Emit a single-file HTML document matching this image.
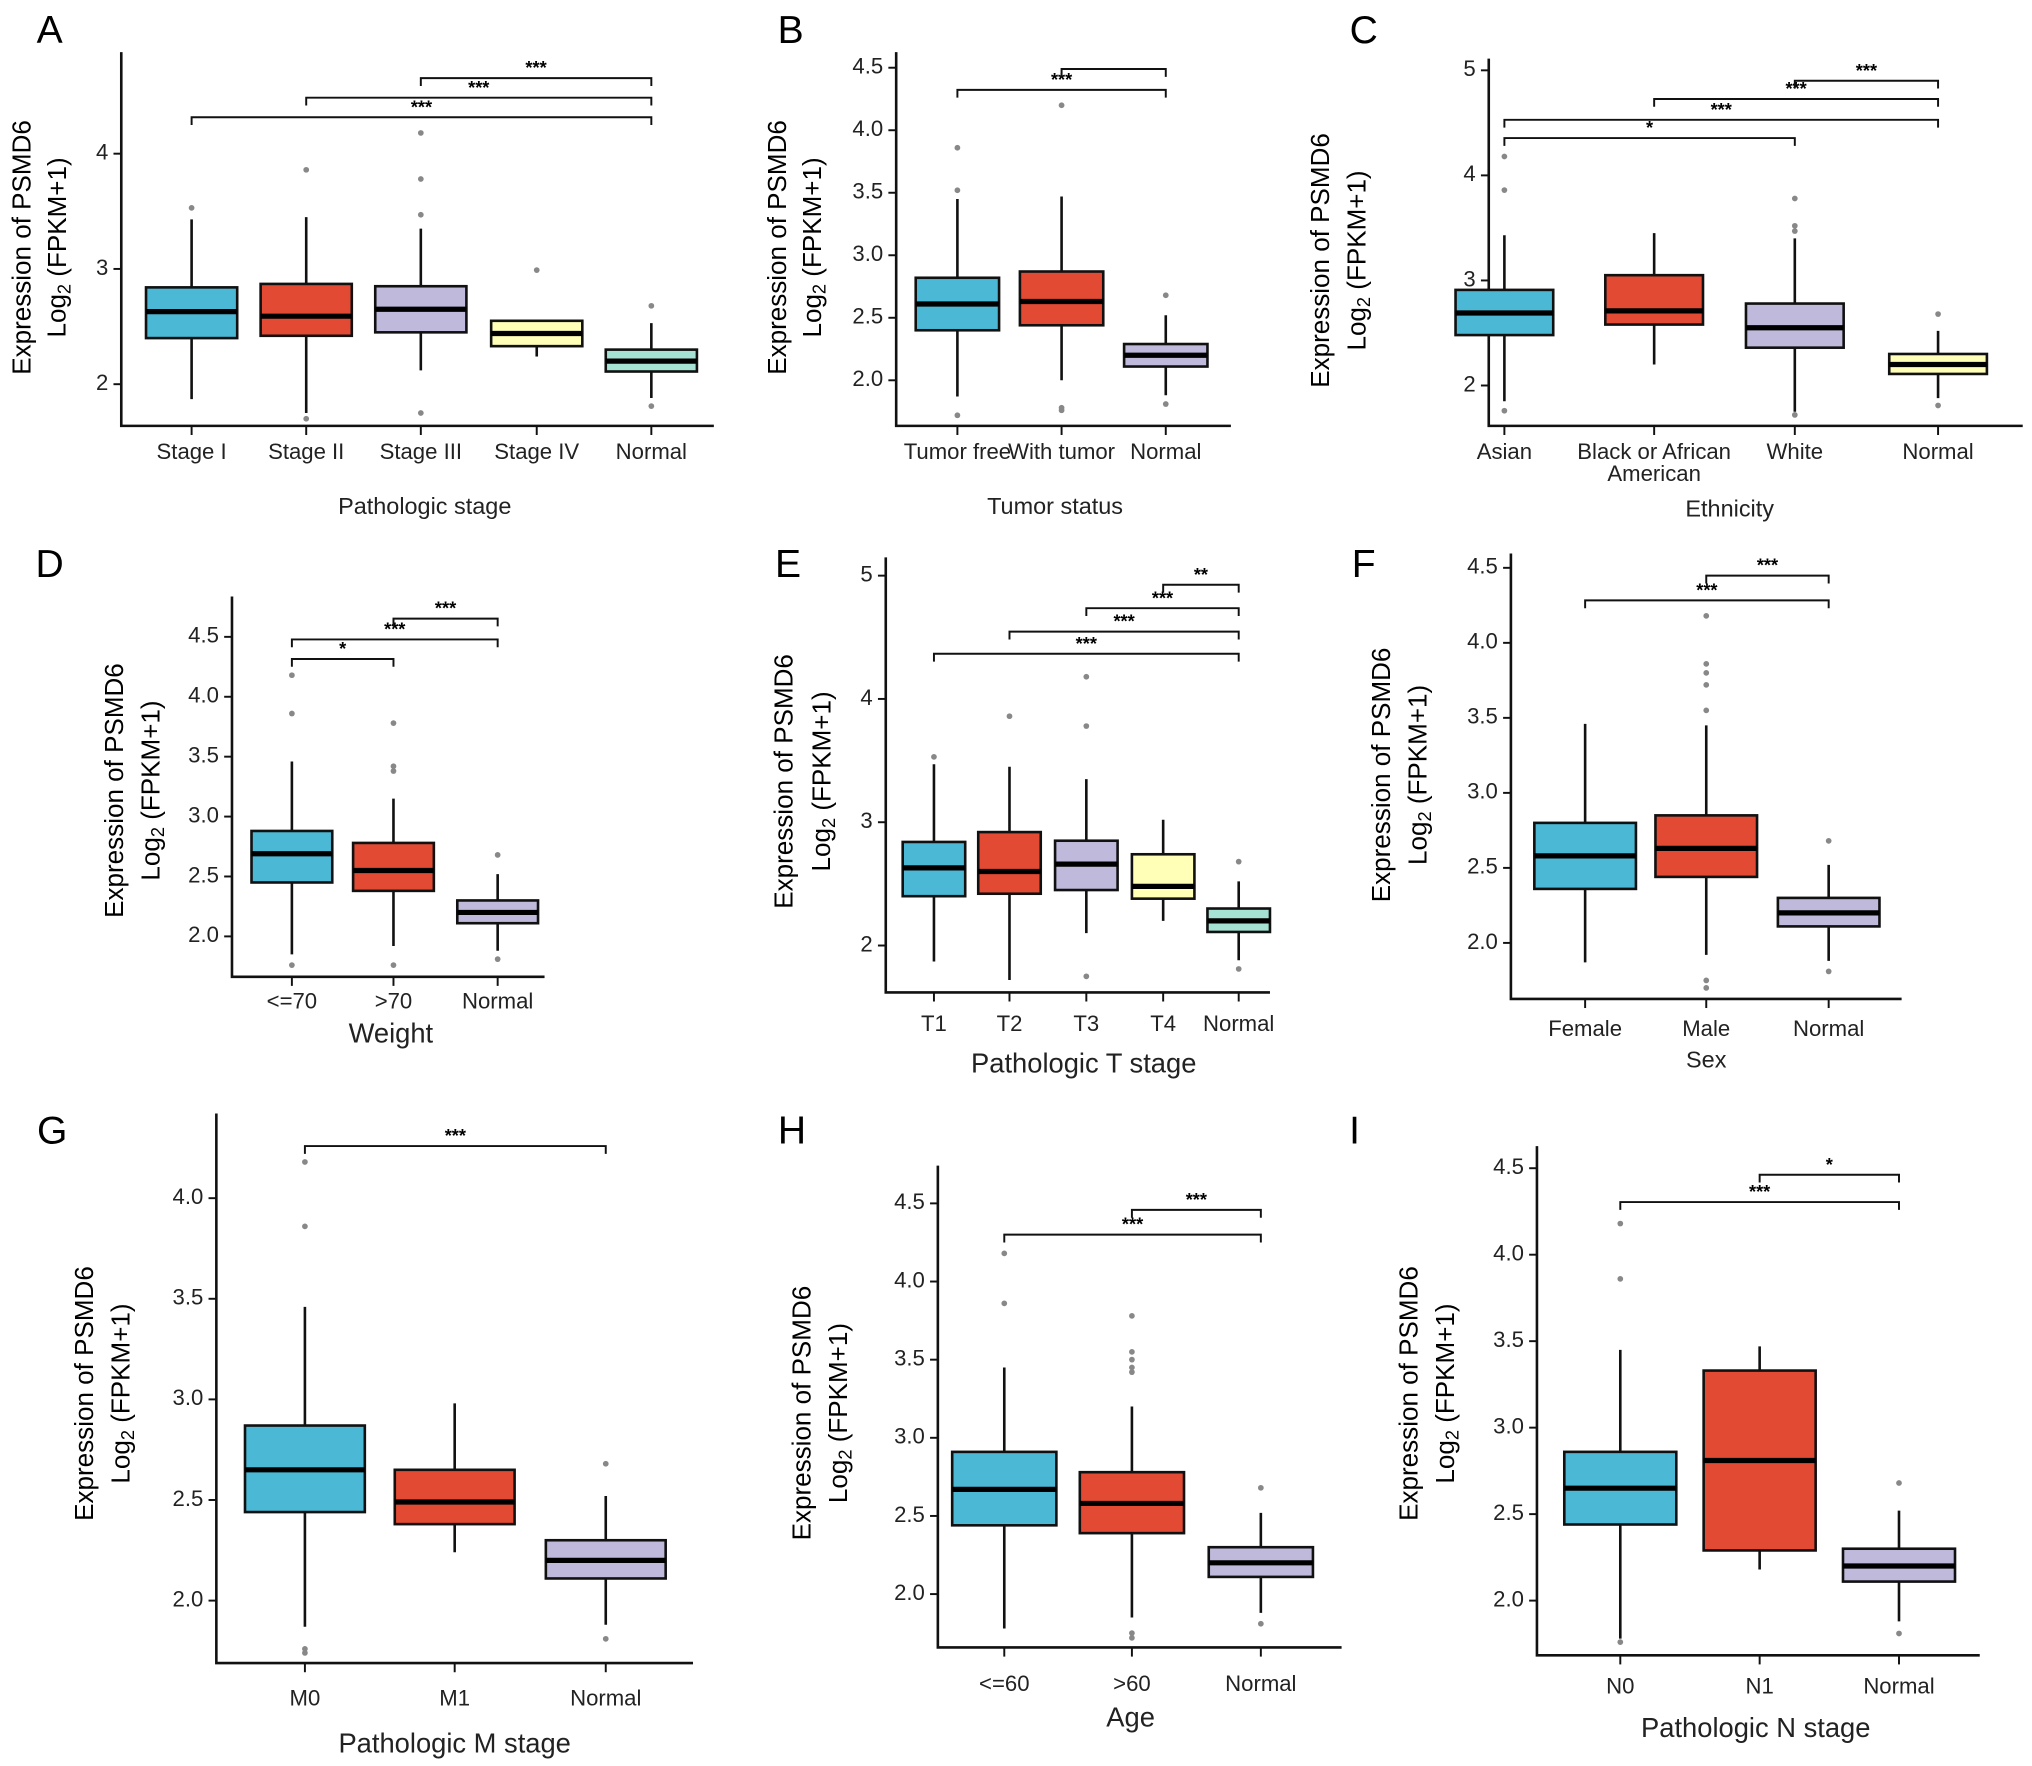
<!DOCTYPE html>
<html><head><meta charset="utf-8"><style>
html,body{margin:0;padding:0;background:#fff;}
svg{display:block;font-family:"Liberation Sans",Arial,sans-serif;}
</style></head><body>
<svg id="fig" width="2032" height="1766" viewBox="0 0 1560 1356" xmlns="http://www.w3.org/2000/svg"></svg>
<script>
// ---- data: [whiskerLow, q1, median, q3, whiskerHigh] ----
const A_cats=["Stage I","Stage II","Stage III","Stage IV","Normal"];
const A_stats=[[1.87,2.40,2.63,2.84,3.43],[1.75,2.42,2.59,2.87,3.45],[2.12,2.45,2.65,2.85,3.35],[2.24,2.33,2.44,2.55,2.55],[1.88,2.11,2.20,2.30,2.53]];
const A_out=[[3.53],[3.86,1.70],[4.18,3.78,3.47,1.75],[2.99],[2.68,1.81]];
const A_ticks=[2,3,4];
const B_cats=["Tumor free","With tumor","Normal"];
const B_stats=[[1.87,2.40,2.61,2.82,3.45],[2.00,2.44,2.63,2.87,3.47],[1.88,2.11,2.20,2.29,2.52]];
const B_out=[[3.86,3.52,1.72],[4.20,1.78,1.76],[2.68,1.81]];
const B_ticks=[2.0,2.5,3.0,3.5,4.0,4.5];
const C_cats=["Asian","Black or African|American","White","Normal"];
const C_stats=[[1.85,2.48,2.69,2.91,3.43],[2.20,2.58,2.71,3.05,3.45],[1.75,2.36,2.55,2.78,3.40],[1.88,2.11,2.20,2.30,2.52]];
const C_out=[[4.18,3.86,1.76],[],[3.78,3.52,3.47,1.72],[2.68,1.81]];
const C_ticks=[2,3,4,5];
const D_cats=["<=70",">70","Normal"];
const D_stats=[[1.85,2.45,2.69,2.88,3.46],[1.92,2.38,2.55,2.78,3.15],[1.88,2.11,2.20,2.30,2.52]];
const D_out=[[4.18,3.86,1.76],[3.78,3.42,3.38,1.76],[2.68,1.81]];
const D_ticks=[2.0,2.5,3.0,3.5,4.0,4.5];
const E_cats=["T1","T2","T3","T4","Normal"];
const E_stats=[[1.87,2.40,2.63,2.84,3.47],[1.72,2.42,2.60,2.92,3.45],[2.10,2.45,2.66,2.85,3.35],[2.20,2.38,2.48,2.74,3.02],[1.88,2.11,2.20,2.30,2.52]];
const E_out=[[3.53],[3.86],[4.18,3.78,1.75],[],[2.68,1.81]];
const E_ticks=[2,3,4,5];
const F_cats=["Female","Male","Normal"];
const F_stats=[[1.87,2.36,2.58,2.80,3.46],[1.92,2.44,2.63,2.85,3.45],[1.88,2.11,2.20,2.30,2.52]];
const F_out=[[],[4.18,3.86,3.80,3.72,3.55,1.75,1.70],[2.68,1.81]];
const F_ticks=[2.0,2.5,3.0,3.5,4.0,4.5];
const G_cats=["M0","M1","Normal"];
const G_stats=[[1.87,2.44,2.65,2.87,3.46],[2.24,2.38,2.49,2.65,2.98],[1.88,2.11,2.20,2.30,2.52]];
const G_out=[[4.18,3.86,1.76,1.74],[],[2.68,1.81]];
const G_ticks=[2.0,2.5,3.0,3.5,4.0];
const H_cats=["<=60",">60","Normal"];
const H_stats=[[1.78,2.44,2.67,2.91,3.45],[1.85,2.39,2.58,2.78,3.20],[1.88,2.11,2.20,2.30,2.52]];
const H_out=[[4.18,3.86],[3.78,3.55,3.50,3.45,3.42,1.75,1.72],[2.68,1.81]];
const H_ticks=[2.0,2.5,3.0,3.5,4.0,4.5];
const I_cats=["N0","N1","Normal"];
const I_stats=[[1.78,2.44,2.65,2.86,3.45],[2.18,2.29,2.81,3.33,3.47],[1.88,2.11,2.20,2.30,2.52]];
const I_out=[[4.18,3.86,1.76],[],[2.68,1.81]];
const I_ticks=[2.0,2.5,3.0,3.5,4.0,4.5];

const BLUE="#4bb9d6",RED="#e34a33",LAV="#bfbadb",YEL="#ffffb8",TEAL="#a6e2d4";
const panels=[
 {id:"A",cats:A_cats,stats:A_stats,out:A_out,ticks:A_ticks,fmt:0,ax:93,top:40,bot:327,right:548,v0:2,p0:295,v1:4,p1:118,cx:[147,235,323,412,500],bw:70,cols:[BLUE,RED,LAV,YEL,TEAL],
  br:[[0,4,90,"***"],[1,4,75,"***"],[2,4,60,"***"]],lab:[38,25],tly:348,tfs:17,xt:"Pathologic stage",xtx:326,xty:390,xfs:18,yt:[18,45,190]},
 {id:"B",cats:B_cats,stats:B_stats,out:B_out,ticks:B_ticks,fmt:1,ax:688,top:40,bot:327,right:945,v0:2,p0:292,v1:4.5,p1:52,cx:[735,815,895],bw:64,cols:[BLUE,RED,LAV],
  br:[[0,2,69,"***"],[1,2,53,""]],lab:[607,25],tly:348,tfs:17,xt:"Tumor status",xtx:810,xty:390,xfs:18,yt:[598,625,190]},
 {id:"C",cats:C_cats,stats:C_stats,out:C_out,ticks:C_ticks,fmt:0,ax:1143,top:45,bot:327,right:1553,v0:2,p0:296,v1:5,p1:54,cx:[1155,1270,1378,1488],bw:75,cols:[BLUE,RED,LAV,YEL],
  br:[[0,2,106,"*"],[0,3,92,"***"],[1,3,76,"***"],[2,3,62,"***"]],lab:[1047,25],tly:348,tfs:17,xt:"Ethnicity",xtx:1328,xty:392,xfs:18,yt:[1015,1043,200]},
 {id:"D",cats:D_cats,stats:D_stats,out:D_out,ticks:D_ticks,fmt:1,ax:178,top:458,bot:750,right:418,v0:2,p0:719,v1:4.5,p1:489,cx:[224,302,382],bw:62,cols:[BLUE,RED,LAV],
  br:[[0,1,506,"*"],[0,2,491,"***"],[1,2,475,"***"]],lab:[38,435],tly:770,tfs:17,xt:"Weight",xtx:300,xty:795,xfs:21,yt:[89,117,607]},
 {id:"E",cats:E_cats,stats:E_stats,out:E_out,ticks:E_ticks,fmt:0,ax:680,top:428,bot:762,right:975,v0:2,p0:726,v1:5,p1:442,cx:[717,775,834,893,951],bw:48,cols:[BLUE,RED,LAV,YEL,TEAL],
  br:[[0,4,502,"***"],[1,4,485,"***"],[2,4,467,"***"],[3,4,449,"**"]],lab:[605,435],tly:787,tfs:17,xt:"Pathologic T stage",xtx:832,xty:818,xfs:21,yt:[603,632,600]},
 {id:"F",cats:F_cats,stats:F_stats,out:F_out,ticks:F_ticks,fmt:1,ax:1160,top:425,bot:767,right:1460,v0:2,p0:724,v1:4.5,p1:436,cx:[1217,1310,1404],bw:78,cols:[BLUE,RED,LAV],
  br:[[0,2,461,"***"],[1,2,442,"***"]],lab:[1047,435],tly:791,tfs:17,xt:"Sex",xtx:1310,xty:815,xfs:18,yt:[1062,1090,595]},
 {id:"G",cats:G_cats,stats:G_stats,out:G_out,ticks:G_ticks,fmt:1,ax:166,top:855,bot:1277,right:532,v0:2,p0:1229,v1:4,p1:920,cx:[234,349,465],bw:92,cols:[BLUE,RED,LAV],
  br:[[0,2,880,"***"]],lab:[40,870],tly:1305,tfs:17,xt:"Pathologic M stage",xtx:349,xty:1340,xfs:21,yt:[66,94,1070]},
 {id:"H",cats:H_cats,stats:H_stats,out:H_out,ticks:H_ticks,fmt:1,ax:720,top:895,bot:1265,right:1030,v0:2,p0:1224,v1:4.5,p1:924,cx:[771,869,968],bw:80,cols:[BLUE,RED,LAV],
  br:[[0,2,948,"***"],[1,2,929,"***"]],lab:[608,870],tly:1294,tfs:17,xt:"Age",xtx:868,xty:1320,xfs:21,yt:[617,645,1085]},
 {id:"I",cats:I_cats,stats:I_stats,out:I_out,ticks:I_ticks,fmt:1,ax:1180,top:880,bot:1271,right:1520,v0:2,p0:1229,v1:4.5,p1:897,cx:[1244,1351,1458],bw:86,cols:[BLUE,RED,LAV],
  br:[[0,2,923,"***"],[1,2,902,"*"]],lab:[1040,870],tly:1296,tfs:17,xt:"Pathologic N stage",xtx:1348,xty:1328,xfs:21,yt:[1083,1111,1070]}
];
const NS="http://www.w3.org/2000/svg";
const svg=document.getElementById('fig');
function mk(tag,attrs,parent){const e=document.createElementNS(NS,tag);for(const k in attrs)e.setAttribute(k,attrs[k]);(parent||svg).appendChild(e);return e;}
panels.forEach(p=>{
  const g=mk('g',{});
  
  
  const y=v=>p.p0+(v-p.v0)*(p.p1-p.p0)/(p.v1-p.v0);
  const lab=mk('text',{x:p.lab[0],y:p.lab[1],'font-size':30,'text-anchor':'middle','dominant-baseline':'middle'},g);
  lab.textContent=p.id;
  
  
  const axl=mk('path',{d:`M${p.ax},${p.top}V${p.bot}H${p.right}`,fill:'none',stroke:'#111','stroke-width':2},g);
  
  
  p.ticks.forEach(t=>{
    const ty=y(t);
    mk('line',{x1:p.ax-6,x2:p.ax,y1:ty,y2:ty,stroke:'#111','stroke-width':1.5},g);
    const tl=mk('text',{x:p.ax-10,y:ty,'font-size':17,'text-anchor':'end','dominant-baseline':'middle',fill:'#222'},g);
    tl.textContent=p.fmt?t.toFixed(1):String(t);
    
    
  });
  const yt=mk('text',{transform:`translate(${p.yt[0]},${p.yt[2]}) rotate(-90)`,'font-size':20,'text-anchor':'middle','dominant-baseline':'middle'},g);
  yt.textContent='Expression of PSMD6';
  
  
  const yt2=mk('text',{transform:`translate(${p.yt[1]},${p.yt[2]}) rotate(-90)`,'font-size':20,'text-anchor':'middle','dominant-baseline':'middle'},g);
  yt2.innerHTML='Log<tspan font-size="14" dy="5">2</tspan><tspan dy="-5"> (FPKM+1)</tspan>';
  
  
  p.cats.forEach((c,i)=>{
    const x=p.cx[i],s=p.stats[i],w=p.bw;
    mk('line',{x1:x,x2:x,y1:p.bot,y2:p.bot+7,stroke:'#111','stroke-width':1.5},g);
    const parts=c.split('|');
    parts.forEach((pt,k)=>{
      const tl=mk('text',{x:x,y:p.tly+k*17,'font-size':p.tfs,'text-anchor':'middle','dominant-baseline':'middle',fill:'#222'},g);
      tl.textContent=pt;
      
      
    });
    const wl=mk('line',{x1:x,x2:x,y1:y(s[0]),y2:y(s[4]),stroke:'#111','stroke-width':2},g);
    
    
    const r=mk('rect',{x:x-w/2,y:y(s[3]),width:w,height:y(s[1])-y(s[3]),fill:p.cols[i],stroke:'#111','stroke-width':2},g);
    
    
    const md=mk('line',{x1:x-w/2,x2:x+w/2,y1:y(s[2]),y2:y(s[2]),stroke:'#000','stroke-width':4},g);
    
    
    p.out[i].forEach(o=>{
      const ci=mk('circle',{cx:x,cy:y(o),r:2.2,fill:'#888'},g);
      
      
    });
  });
  p.br.forEach(b=>{
    const x1=p.cx[b[0]],x2=p.cx[b[1]],by=b[2];
    const bp=mk('path',{d:`M${x1},${by+6}V${by}H${x2}V${by+6}`,fill:'none',stroke:'#111','stroke-width':1.5},g);
    
    
    if(b[3]){
      const st=mk('text',{x:(x1+x2)/2,y:by-3,'font-size':14,'font-weight':'bold','text-anchor':'middle'},g);
      st.textContent=b[3];
      
      
    }
  });
  const xt=mk('text',{x:p.xtx,y:p.xty,'font-size':p.xfs,'text-anchor':'middle','dominant-baseline':'middle',fill:'#222'},g);
  xt.textContent=p.xt;
  
  
});
</script>
</body></html>
